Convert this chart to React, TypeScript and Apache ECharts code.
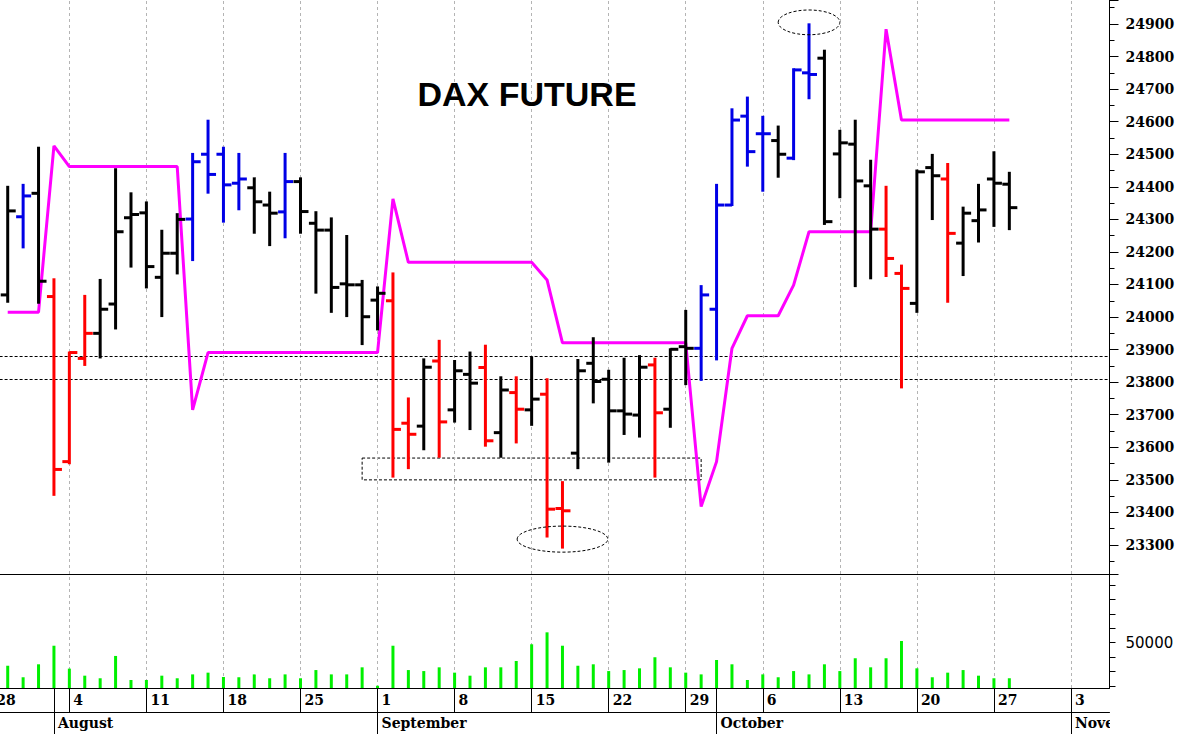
import React, { useEffect, useRef } from 'react';
import * as echarts from 'echarts';

// Trading days shown on the time axis (Jul 28 is only partly visible at the left edge)
const tradingDays: string[] = [
  '2025-07-28', '2025-07-29', '2025-07-30', '2025-07-31',
  '2025-08-01', '2025-08-04', '2025-08-05', '2025-08-06', '2025-08-07', '2025-08-08',
  '2025-08-11', '2025-08-12', '2025-08-13', '2025-08-14', '2025-08-15',
  '2025-08-18', '2025-08-19', '2025-08-20', '2025-08-21', '2025-08-22',
  '2025-08-25', '2025-08-26', '2025-08-27', '2025-08-28', '2025-08-29',
  '2025-09-01', '2025-09-02', '2025-09-03', '2025-09-04', '2025-09-05',
  '2025-09-08', '2025-09-09', '2025-09-10', '2025-09-11', '2025-09-12',
  '2025-09-15', '2025-09-16', '2025-09-17', '2025-09-18', '2025-09-19',
  '2025-09-22', '2025-09-23', '2025-09-24', '2025-09-25', '2025-09-26',
  '2025-09-29', '2025-09-30', '2025-10-01', '2025-10-02', '2025-10-03',
  '2025-10-06', '2025-10-07', '2025-10-08', '2025-10-09', '2025-10-10',
  '2025-10-13', '2025-10-14', '2025-10-15', '2025-10-16', '2025-10-17',
  '2025-10-20', '2025-10-21', '2025-10-22', '2025-10-23', '2025-10-24',
  '2025-10-27', '2025-10-28', '2025-10-29', '2025-10-30', '2025-10-31',
  '2025-11-03', '2025-11-04', '2025-11-05',
];

// Bars exist from Jul 29 to Oct 28
const barDates: string[] = tradingDays.slice(1, 67);

const opens = [24068, 24308, 24380, 24063, 23556, 23873, 23950, 24040, 24305, 24320, 24122, 24196, 24301, 24500, 24500, 24411, 24397, 24344, 24323, 24416, 24288, 24267, 24102, 24099, 24052, 24050, 23674, 23665, 23865, 23715, 23824, 23845, 23645, 23768, 23715, 23763, 23412, 23582, 23858, 23809, 23712, 23699, 23853, 23717, 23909, 23904, 24024, 24344, 24617, 24563, 24542, 24488, 24750, 24795, 24501, 24531, 24403, 24270, 24134, 24042, 24459, 24424, 24227, 24296, 24424, 24408];
const highs = [24400, 24406, 24520, 24116, 23891, 24065, 24114, 24454, 24380, 24352, 24265, 24316, 24501, 24603, 24520, 24501, 24426, 24382, 24501, 24426, 24322, 24303, 24249, 24111, 24091, 24134, 23750, 23870, 23927, 23865, 23891, 23912, 23815, 23815, 23876, 23809, 23493, 23868, 23935, 23835, 23872, 23880, 23872, 23901, 24019, 24095, 24406, 24638, 24674, 24615, 24585, 24761, 24899, 24818, 24572, 24603, 24480, 24400, 24158, 24450, 24498, 24470, 24336, 24406, 24506, 24443];
const lows = [24047, 24214, 24044, 23454, 23551, 23853, 23876, 23965, 24155, 24091, 24003, 24134, 24175, 24382, 24293, 24331, 24259, 24221, 24245, 24259, 24075, 24016, 24003, 23917, 23962, 23510, 23536, 23594, 23571, 23679, 23656, 23605, 23571, 23615, 23669, 23326, 23292, 23536, 23738, 23556, 23641, 23633, 23510, 23663, 23794, 23807, 23870, 24344, 24465, 24388, 24431, 24485, 24672, 24286, 24368, 24095, 24119, 24126, 23784, 24016, 24301, 24047, 24129, 24232, 24280, 24270];
const closes = [24326, 24372, 24110, 23532, 23891, 23950, 24024, 24262, 24315, 24155, 24196, 24300, 24477, 24438, 24406, 24424, 24354, 24319, 24416, 24324, 24267, 24091, 24099, 24001, 24073, 23655, 23640, 23846, 23678, 23835, 23797, 23620, 23776, 23717, 23748, 23410, 23405, 23835, 23802, 23712, 23702, 23846, 23706, 23901, 23904, 24068, 24344, 24605, 24508, 24563, 24500, 24759, 24745, 24293, 24535, 24418, 24270, 24180, 24088, 24446, 24434, 24257, 24319, 24329, 24411, 24336];
// k = black, b = blue, r = red
const barColors = ['k', 'b', 'k', 'r', 'r', 'r', 'k', 'k', 'k', 'k', 'k', 'k', 'b', 'b', 'b', 'b', 'k', 'k', 'b', 'k', 'k', 'k', 'k', 'k', 'k', 'r', 'r', 'k', 'r', 'k', 'k', 'r', 'k', 'r', 'k', 'r', 'r', 'k', 'k', 'k', 'k', 'k', 'r', 'k', 'k', 'b', 'b', 'b', 'b', 'b', 'k', 'b', 'b', 'k', 'k', 'k', 'k', 'r', 'r', 'k', 'k', 'r', 'k', 'k', 'k', 'k'];
const stopLine = [24015, 24015, 24015, 24526, 24462, 24462, 24462, 24462, 24462, 24462, 24462, 24462, 23715, 23891, 23891, 23891, 23891, 23891, 23891, 23891, 23891, 23891, 23891, 23891, 23891, 24363, 24168, 24168, 24168, 24168, 24168, 24168, 24168, 24168, 24168, 24114, 23921, 23921, 23921, 23921, 23921, 23921, 23921, 23921, 23921, 23418, 23556, 23904, 24004, 24004, 24004, 24098, 24262, 24262, 24262, 24262, 24262, 24884, 24605, 24605, 24605, 24605, 24605, 24605, 24605, 24605];
const volumes = [34000, 26000, 35000, 47900, 32000, 27100, 25300, 40800, 24100, 24100, 27100, 25300, 28000, 29200, 26200, 26000, 28000, 25300, 28000, 25300, 31000, 28000, 28000, 32900, 20100, 47900, 31000, 30300, 32900, 29200, 27100, 32900, 32900, 37300, 48900, 57200, 47900, 34000, 35000, 30300, 31000, 32200, 39900, 32900, 29200, 28000, 38000, 35000, 24100, 28000, 26000, 30300, 28000, 35000, 30300, 39200, 32900, 39200, 51200, 32200, 26000, 29200, 31000, 27100, 25300, 25300];

// Annotations
const priceLevels = [23880, 23810];
const boxFrom = '2025-08-29';
const boxTo = '2025-09-30';
const boxLow = 23500;
const boxHigh = 23567;
const ellipseDates = ['2025-09-17', '2025-10-09'];
const ellipseValues = [23318, 24905];
const ellipseHalfWidthDays = [2.94, 2.0];
const ellipseHalfHeightPts = [40, 38];

// Tick labels
const monthKeys = ['08', '09', '10', '11'];
const monthLabels = ['August', 'September', 'October', 'Nove'];
const volumeLabelValue = 50000;

const COLOR_MAP: Record<string, string> = { k: '#000000', b: '#0000e6', r: '#ff0000' };

const mondayFlags = tradingDays.map((d) => new Date(d + 'T00:00:00Z').getUTCDay() === 1);
const monthStartFlags = tradingDays.map((d, i) => i > 0 && d.slice(5, 7) !== tradingDays[i - 1].slice(5, 7));
const mondays = tradingDays.filter((_, i) => mondayFlags[i]);

// The chart canvas starts 16px left of the page so that Jul 28 sits just off-screen
const SHIFT = 16;
const CHART_W = 1180 + SHIFT;
const GRID_LEFT = SHIFT - 15.4;
const GRID_RIGHT = CHART_W - (1109.5 + SHIFT);

const serifLabel = {
  fontFamily: 'DejaVu Serif',
  fontWeight: 'bold' as const,
  fontSize: 14,
  color: '#000',
};

export default function App() {
  const ref = useRef<HTMLDivElement>(null);

  useEffect(() => {
    document.body.style.margin = '0';
    const chart = echarts.init(ref.current as HTMLDivElement, null, { renderer: 'svg' });

    const gridGuides = mondays.map((d) => ({
      xAxis: d,
      lineStyle: { color: '#b4b4b4', width: 1, type: [3, 3] },
    }));

    const option: any = {
      animation: false,
      backgroundColor: '#ffffff',
      grid: [
        { left: GRID_LEFT, right: GRID_RIGHT, top: 0, height: 574, outerBoundsMode: 'none' },
        { left: GRID_LEFT, right: GRID_RIGHT, top: 574, height: 114, outerBoundsMode: 'none' },
      ],
      xAxis: [
        {
          type: 'category',
          data: tradingDays,
          gridIndex: 0,
          boundaryGap: true,
          axisLine: { show: true, onZero: false, lineStyle: { color: '#000', width: 1 } },
          axisTick: { show: false },
          axisLabel: { show: false },
          splitLine: { show: false },
        },
        {
          type: 'category',
          data: tradingDays,
          gridIndex: 1,
          boundaryGap: true,
          axisLine: { show: true, onZero: false, lineStyle: { color: '#000', width: 1 } },
          axisTick: {
            show: true,
            alignWithLabel: true,
            length: 24,
            interval: (i: number) => mondayFlags[i] || monthStartFlags[i],
            lineStyle: { color: '#000', width: 1 },
          },
          axisLabel: {
            ...serifLabel,
            interval: (i: number) => mondayFlags[i],
            formatter: (v: string) => String(Number(v.slice(8, 10))),
            align: 'left',
            verticalAlign: 'middle',
            margin: 12,
            padding: [0, 0, 0, 4],
          },
          splitLine: { show: false },
        },
        {
          type: 'category',
          data: tradingDays,
          gridIndex: 1,
          position: 'bottom',
          offset: 24,
          boundaryGap: true,
          axisLine: { show: true, onZero: false, lineStyle: { color: '#000', width: 1 } },
          axisTick: {
            show: true,
            alignWithLabel: true,
            length: 22,
            interval: (i: number) => monthStartFlags[i],
            lineStyle: { color: '#000', width: 1 },
          },
          axisLabel: {
            ...serifLabel,
            interval: (i: number) => monthStartFlags[i],
            formatter: (v: string) => {
              const k = monthKeys.indexOf(v.slice(5, 7));
              return k >= 0 ? monthLabels[k] : '';
            },
            align: 'left',
            verticalAlign: 'middle',
            margin: 11,
            padding: [0, 0, 0, 4],
          },
          splitLine: { show: false },
        },
      ],
      yAxis: [
        {
          type: 'value',
          gridIndex: 0,
          position: 'right',
          min: 23210.9,
          max: 24973.7,
          splitNumber: 18,
          scale: true,
          axisLine: { show: true, lineStyle: { color: '#000', width: 1 } },
          axisTick: { show: true, length: 9, lineStyle: { color: '#000', width: 1 } },
          minorTick: { show: true, splitNumber: 2, length: 5, lineStyle: { color: '#000', width: 1 } },
          splitLine: { show: false },
          axisLabel: {
            ...serifLabel,
            margin: 16,
            showMinLabel: false,
            showMaxLabel: false,
            formatter: (v: number) => String(Math.round(v)),
          },
        },
        {
          type: 'value',
          gridIndex: 1,
          position: 'right',
          min: 18542,
          max: 97708,
          splitNumber: 8,
          scale: true,
          axisLine: { show: true, lineStyle: { color: '#000', width: 1 } },
          axisTick: { show: true, length: 6, lineStyle: { color: '#000', width: 1 } },
          splitLine: { show: false },
          axisLabel: {
            fontFamily: 'DejaVu Sans',
            fontSize: 15,
            color: '#000',
            margin: 16,
            showMinLabel: false,
            showMaxLabel: false,
            formatter: (v: number) => (Math.abs(v - volumeLabelValue) < 1 ? String(volumeLabelValue) : ''),
          },
        },
      ],
      graphic: [
        {
          type: 'text',
          x: 527 + SHIFT,
          y: 94,
          z: 50,
          style: {
            text: 'DAX FUTURE',
            fontSize: 34,
            fontWeight: 'bold',
            fontFamily: 'Liberation Sans, Arial, sans-serif',
            fill: '#000',
            align: 'center',
            verticalAlign: 'middle',
            textAlign: 'center',
            textVerticalAlign: 'middle',
          },
        },
        {
          type: 'rect',
          z: 100,
          shape: { x: 1110 + SHIFT, y: 713, width: 70, height: 21 },
          style: { fill: '#ffffff' },
        },
      ],
      series: [
        {
          name: 'Stop',
          type: 'line',
          xAxisIndex: 0,
          yAxisIndex: 0,
          z: 2,
          data: barDates.map((d, i) => [d, stopLine[i]]),
          showSymbol: false,
          symbol: 'none',
          lineStyle: { color: '#ff00ff', width: 3 },
          silent: true,
          markLine: {
            silent: true,
            z: 1,
            symbol: ['none', 'none'],
            label: { show: false },
            emphasis: { disabled: true },
            data: [
              ...gridGuides,
              ...priceLevels.map((v) => ({
                yAxis: v,
                lineStyle: { color: '#000', width: 1, type: [3, 2] },
              })),
            ],
          },
          markArea: {
            silent: true,
            z: 1,
            label: { show: false },
            itemStyle: { color: 'rgba(0,0,0,0)', borderColor: '#000', borderWidth: 1, borderType: [3, 2] },
            data: [[{ xAxis: boxFrom, yAxis: boxHigh }, { xAxis: boxTo, yAxis: boxLow }]],
          },
        },
        {
          name: 'DAX',
          type: 'custom',
          xAxisIndex: 0,
          yAxisIndex: 0,
          z: 3,
          silent: true,
          encode: { x: 0, y: [1, 2, 3, 4] },
          data: barDates.map((d, i) => ({
            value: [d, opens[i], highs[i], lows[i], closes[i]],
            itemStyle: { color: COLOR_MAP[barColors[i]] },
          })),
          renderItem: (params: any, api: any) => {
            const xi = api.value(0);
            const pO = api.coord([xi, api.value(1)]);
            const pH = api.coord([xi, api.value(2)]);
            const pL = api.coord([xi, api.value(3)]);
            const pC = api.coord([xi, api.value(4)]);
            const color = api.visual('color');
            const style = { stroke: color, lineWidth: 3, fill: null };
            const x = pH[0];
            return {
              type: 'group',
              children: [
                { type: 'line', shape: { x1: x, y1: pH[1] - 1, x2: x, y2: pL[1] + 1 }, style },
                { type: 'line', shape: { x1: x - 7, y1: pO[1], x2: x, y2: pO[1] }, style },
                { type: 'line', shape: { x1: x, y1: pC[1], x2: x + 8, y2: pC[1] }, style },
              ],
            };
          },
        },
        {
          name: 'Marks',
          type: 'custom',
          xAxisIndex: 0,
          yAxisIndex: 0,
          z: 4,
          silent: true,
          encode: { x: 0, y: 1 },
          data: ellipseDates.map((d, i) => [d, ellipseValues[i], ellipseHalfWidthDays[i], ellipseHalfHeightPts[i]]),
          renderItem: (params: any, api: any) => {
            const c = api.coord([api.value(0), api.value(1)]);
            const s = api.size([1, api.value(3)]);
            return {
              type: 'ellipse',
              shape: { cx: c[0], cy: c[1], rx: s[0] * api.value(2), ry: s[1] },
              style: { fill: null, stroke: '#000', lineWidth: 1, lineDash: [3, 2] },
            };
          },
        },
        {
          name: 'Volume',
          type: 'bar',
          xAxisIndex: 1,
          yAxisIndex: 1,
          clip: true,
          barWidth: 3,
          silent: true,
          z: 3,
          data: barDates.map((d, i) => [d, volumes[i]]),
          itemStyle: { color: '#00f000' },
          markLine: {
            silent: true,
            z: 1,
            symbol: ['none', 'none'],
            label: { show: false },
            emphasis: { disabled: true },
            data: gridGuides,
          },
        },
      ],
    };

    chart.setOption(option);
    return () => chart.dispose();
  }, []);

  return (
    <div
      ref={ref}
      style={{ position: 'absolute', left: -SHIFT, top: 0, width: CHART_W, height: 734 }}
    />
  );
}
